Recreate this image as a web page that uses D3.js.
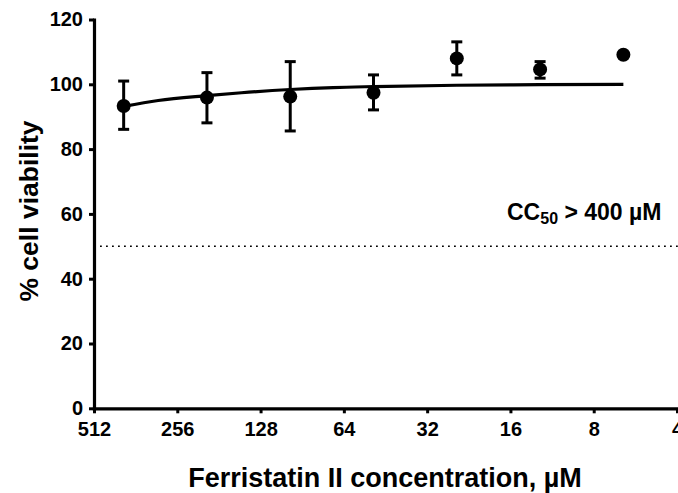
<!DOCTYPE html>
<html>
<head>
<meta charset="utf-8">
<script src="https://cdn.jsdelivr.net/npm/d3@7"></script>
<style>
  html, body { margin: 0; padding: 0; background: #fff; }
  svg text { font-family: "Liberation Sans", Arial, sans-serif; font-weight: bold; fill: #000; }
</style>
</head>
<body>
<svg id="chart" width="678" height="493"></svg>
<script>
// ---- Data ----
const concentrations = [400, 200, 100, 50, 25, 12.5, 6.25];
const viability      = [93.3, 95.9, 96.2, 97.4, 108.0, 104.6, 109.1];
const errUpper       = [101.0, 103.6, 107.0, 102.9, 113.1, 107.0, 109.6];
const errLower       = [86.1, 88.1, 85.6, 92.1, 102.9, 101.9, 108.6];
const fitX           = [400, 300, 200, 150, 100, 70, 50, 25, 12.5, 6.25];
const fitY           = [93.2, 95.0, 96.5, 97.4, 98.4, 99.0, 99.3, 99.7, 99.9, 100.0];
const xTicks         = [512, 256, 128, 64, 32, 16, 8, 4];
const yTicks         = [0, 20, 40, 60, 80, 100, 120];
const thresholdValue = 50;

const svg = d3.select("#chart");

const x = d3.scaleLog().base(2).domain([512, 4]).range([94, 677]);
const y = d3.scaleLinear().domain([0, 120]).range([408.3, 19.5]);

// Threshold dotted line
svg.append("line")
  .attr("x1", 100).attr("x2", 678)
  .attr("y1", y(thresholdValue)).attr("y2", y(thresholdValue))
  .attr("stroke", "#000").attr("stroke-width", 1.5)
  .attr("stroke-dasharray", "1.8,4.2");

// Axes
const yAxis = d3.axisLeft(y).tickValues(yTicks).tickSize(5).tickSizeOuter(0).tickPadding(6);
const xAxis = d3.axisBottom(x).tickValues(xTicks).tickFormat(d3.format("d")).tickSize(5).tickSizeOuter(0).tickPadding(9);

const gy = svg.append("g").attr("transform", `translate(${x(512)},0)`).call(yAxis);
const gx = svg.append("g").attr("transform", `translate(0,${y(0)})`).call(xAxis);

[gy, gx].forEach(g => {
  g.select(".domain").attr("stroke", "#000").attr("stroke-width", 3.2).attr("stroke-linecap", "square");
  g.selectAll(".tick line").attr("stroke", "#000").attr("stroke-width", 3);
  g.selectAll(".tick text").style("font-size", "20px").style("font-family", "'Liberation Sans', Arial, sans-serif").style("font-weight", "bold").attr("fill", "#000");
});

// Fit curve
const line = d3.line().x(d => x(d[0])).y(d => y(d[1])).curve(d3.curveMonotoneX);
svg.append("path")
  .datum(fitX.map((c, i) => [c, fitY[i]]))
  .attr("d", line)
  .attr("fill", "none").attr("stroke", "#000").attr("stroke-width", 3.2);

// Error bars
const pts = concentrations.map((c, i) => ({c, v: viability[i], hi: errUpper[i], lo: errLower[i]}));
const eb = svg.append("g").attr("stroke", "#000").attr("stroke-width", 3);
const capHalf = 5.5;
pts.forEach(p => {
  eb.append("line").attr("x1", x(p.c)).attr("x2", x(p.c)).attr("y1", y(p.hi)).attr("y2", y(p.lo));
  eb.append("line").attr("x1", x(p.c) - capHalf).attr("x2", x(p.c) + capHalf).attr("y1", y(p.hi)).attr("y2", y(p.hi));
  eb.append("line").attr("x1", x(p.c) - capHalf).attr("x2", x(p.c) + capHalf).attr("y1", y(p.lo)).attr("y2", y(p.lo));
});

// Points
svg.append("g").selectAll("circle").data(pts).join("circle")
  .attr("cx", d => x(d.c)).attr("cy", d => y(d.v)).attr("r", 7).attr("fill", "#000");

// Annotation CC50
const ann = svg.append("text").attr("x", 507).attr("y", 219.5).style("font-size", "23px");
ann.append("tspan").text("CC");
ann.append("tspan").attr("dy", 4).style("font-size", "16px").text("50");
ann.append("tspan").attr("dy", -4).text(" > 400 \u00B5M");

// Axis titles
svg.append("text")
  .attr("x", 385).attr("y", 487)
  .attr("text-anchor", "middle").style("font-size", "27px")
  .text("Ferristatin II concentration, \u00B5M");

svg.append("text")
  .attr("transform", "translate(38,211) rotate(-90)")
  .attr("text-anchor", "middle").style("font-size", "26.5px")
  .text("% cell viability");
</script>
</body>
</html>
